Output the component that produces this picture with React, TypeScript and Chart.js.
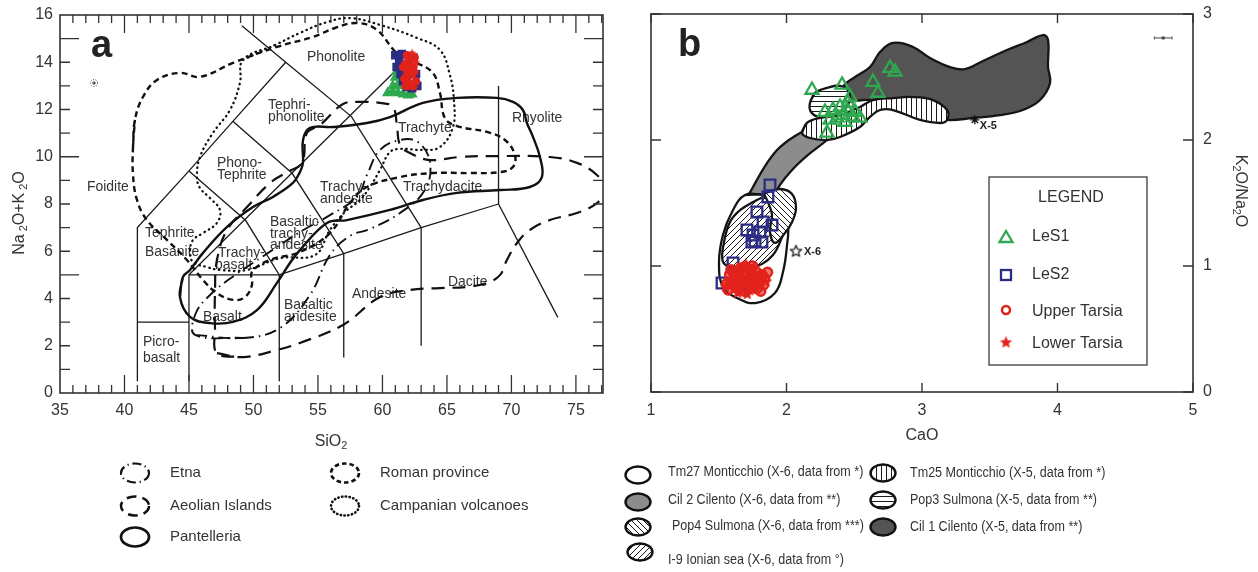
import React, { useEffect, useRef } from 'react';
import { Chart, registerables } from 'chart.js';

Chart.register(...registerables);

type Pt = [number, number];

const FONT = '"Liberation Sans", Arial, Helvetica, sans-serif';
const INK = '#333333';
const GREEN = '#2fa84f';
const BLUE = '#2b2d85';
const RED = '#e2231c';

// ---------- panel a : total alkali vs silica ----------
const siTicks = [35, 40, 45, 50, 55, 60, 65, 70, 75];
const alkTicks = [0, 2, 4, 6, 8, 10, 12, 14, 16];

// classification field boundaries (SiO2, Na2O+K2O)
const tasLines: Pt[][] = [
  [[41, 0.5], [41, 7], [45, 9.4], [48.4, 11.5], [52.5, 14]],
  [[49.1, 15.55], [52.5, 14], [57.6, 11.7], [63, 7]],
  [[41, 3], [45, 3]],
  [[45, 0.5], [45, 5], [61.3, 13.8]],
  [[45, 5], [52, 5], [57, 5.9], [63, 7], [69, 8]],
  [[52, 0.5], [52, 5], [49.4, 7.3], [45, 9.4]],
  [[57, 1.5], [57, 5.9], [53, 9.3], [48.4, 11.5]],
  [[63, 2], [63, 7]],
  [[69, 8], [69, 13]],
  [[69, 8], [73.6, 3.2]],
];

const tasFieldLabels: [string, number, number][] = [
  ['Phonolite', 54.15, 14.22],
  ['Tephri-', 51.12, 12.19],
  ['phonolite', 51.12, 11.68],
  ['Trachyte', 61.2, 11.22],
  ['Rhyolite', 70.04, 11.64],
  ['Phono-', 47.17, 9.74],
  ['Tephrite', 47.17, 9.23],
  ['Foidite', 37.09, 8.72],
  ['Trachy-', 55.16, 8.72],
  ['andesite', 55.16, 8.21],
  ['Trachydacite', 61.59, 8.72],
  ['Tephrite', 41.59, 6.77],
  ['Basanite', 41.59, 5.97],
  ['Basaltic', 51.28, 7.24],
  ['trachy-', 51.28, 6.73],
  ['andesite', 51.28, 6.26],
  ['Trachy-', 47.25, 5.93],
  ['basalt', 47.02, 5.42],
  ['Basalt', 46.09, 3.22],
  ['Basaltic', 52.36, 3.72],
  ['andesite', 52.36, 3.22],
  ['Andesite', 57.64, 4.19],
  ['Dacite', 65.08, 4.7],
  ['Picro-', 41.43, 2.16],
  ['basalt', 41.43, 1.48],
];

// comparison fields
const etnaField: Pt[] = [
  [45.47, 2.46], [49.19, 2.33], [52.05, 2.75], [54.38, 4.15], [55.93, 5.84], [57.48, 6.65],
  [59.03, 6.94], [61.36, 7.62], [63.29, 8.59], [63.68, 9.78], [62.75, 10.62], [61.36, 10.71],
  [59.81, 10.29], [58.8, 9.23], [58.02, 8.3], [55.93, 7.53], [53.6, 6.81], [50.89, 5.84],
  [48.57, 4.99], [46.63, 4.15], [45.47, 3.3],
];
const aeolianField: Pt[] = [
  [47.17, 1.69], [49.19, 1.52], [51.82, 1.82], [53.6, 2.12], [56.94, 2.88], [59.81, 4.06],
  [62.13, 4.36], [64.46, 4.44], [66.55, 4.49], [68.1, 4.66], [69.11, 4.99], [69.65, 5.63],
  [70.43, 6.35], [71.43, 6.9], [72.98, 7.32], [75.08, 7.62], [76.63, 8.04], [77.33, 8.59],
  [76.63, 9.23], [75.08, 9.74], [72.98, 9.99], [69.11, 10.03], [66.01, 9.99], [63.68, 9.86],
  [62.13, 10.16], [61.36, 10.5], [61.12, 11.34], [60.81, 12.11], [59.81, 12.28], [58.26, 12.32],
  [56.94, 12.23], [55.16, 11.34], [54.15, 11.01], [53.76, 9.74], [52.6, 9.35], [51.28, 8.89],
  [49.5, 7.87], [47.95, 6.9], [47.17, 5.63], [47.02, 4.36], [47.02, 2.67],
];
const pantelleriaField: Pt[] = [
  [44.53, 4.91], [44.3, 4.06], [45.08, 3.22], [46.63, 2.96], [48.41, 3.01], [50.27, 3.51],
  [51.82, 4.66], [52.83, 5.5], [53.6, 6.05], [55.7, 7.2], [57.25, 7.32], [60.58, 7.75],
  [63.14, 8.17], [65.78, 8.47], [69.11, 8.59], [71.43, 8.72], [72.36, 9.14], [72.21, 9.99],
  [71.67, 10.84], [71.2, 11.43], [70.89, 11.98], [70.12, 12.32], [68.88, 12.49], [65.78, 12.49],
  [63.14, 12.28], [60.58, 11.68], [58.8, 11.43], [56.16, 11.26], [54.38, 11.22], [53.84, 10.71],
  [53.84, 9.74], [53.6, 9.35], [53.06, 8.89], [51.51, 8.3], [49.96, 7.87], [47.95, 7.03],
  [46.09, 5.93], [45.08, 5.21],
];
const romanField: Pt[] = [
  [40.66, 10.41], [40.81, 11.56], [41.43, 12.53], [42.52, 13.25], [44.3, 13.55], [45.85, 13.38],
  [48.41, 13.97], [51.82, 14.65], [54.61, 15.07], [56.32, 15.45], [58.02, 15.66], [59.57, 15.37],
  [61.12, 14.39], [62.67, 13.97], [63.91, 13.55], [64.46, 12.7], [64.84, 11.64], [65.78, 11.3],
  [68.1, 11.05], [69.5, 10.71], [70.27, 10.07], [70.12, 9.57], [69.11, 9.35], [66.78, 9.31],
  [63.91, 9.31], [61.36, 9.14], [58.8, 8.72], [57.48, 8.04], [55.93, 6.77], [53.6, 5.97],
  [51.28, 5.63], [49.88, 5.12], [49.88, 4.57], [49.34, 4.06], [48.41, 3.94], [47.17, 4.23],
  [46.09, 4.78], [44.84, 5.63], [43.29, 6.48], [41.74, 7.32], [40.97, 8.17], [40.66, 9.23],
];
const campanianField: Pt[] = [
  [49.19, 14.1], [51.67, 14.73], [53.6, 15.24], [55.7, 15.7], [57.48, 15.87], [59.81, 15.58],
  [62.67, 15.03], [64.46, 14.52], [65.23, 13.46], [65.54, 12.4], [65.47, 11.26], [64.46, 10.41],
  [63.14, 10.29], [61.36, 10.33], [60.58, 10.2], [59.81, 9.44], [59.03, 8.72], [58.26, 8.17],
  [57.09, 7.66], [55.93, 6.9], [54.77, 5.84], [52.05, 5.71], [49.5, 5.21], [47.4, 5.21],
  [46.4, 5.33], [45.31, 5.55], [45.08, 5.97], [45.31, 6.48], [46.09, 6.77], [47.17, 7.2],
  [47.4, 7.75], [46.63, 8.25], [45.85, 8.68], [45.62, 9.14], [45.85, 9.99], [46.86, 11.01],
  [48.18, 11.98], [48.95, 13.12],
];

// analysed glasses, panel a
const les1TAS: Pt[] = [
  [60.4, 12.7], [60.8, 12.75], [61.2, 12.7], [61.6, 12.65], [62.0, 12.6], [62.3, 12.65],
  [60.8, 13.0], [61.2, 13.05], [61.6, 13.0], [61.0, 13.35], [61.3, 13.4], [61.1, 13.6],
];
const les2TAS: Pt[] = [
  [61.0, 14.3], [61.3, 14.1], [61.1, 13.8], [61.4, 13.5], [61.6, 13.2], [61.9, 12.95],
  [62.3, 12.9], [62.7, 13.0], [62.6, 13.5], [61.5, 14.35], [62.0, 13.9], [62.4, 14.2],
];
const upperTarsiaTAS: Pt[] = [
  [61.7, 13.3], [61.9, 13.7], [62.1, 14.1], [62.4, 13.8], [61.8, 13.0], [62.0, 13.4],
  [62.3, 13.5], [62.6, 13.2], [61.9, 14.3], [62.2, 13.0], [61.6, 13.8], [62.5, 14.2],
];
const lowerTarsiaTAS: Pt[] = [
  [61.8, 13.5], [62.0, 13.9], [62.2, 14.3], [62.6, 13.6], [61.9, 13.1], [62.1, 13.2],
  [62.5, 12.95], [61.7, 14.0], [62.3, 14.4], [62.3, 13.1], [62.0, 14.2], [62.6, 14.0],
];
const tasErrorCross: Pt = [37.64, 13.12];

// ---------- panel b : CaO vs K2O/Na2O ----------
const caoTicks = [1, 2, 3, 4, 5];
const ratioTicks = [0, 1, 2, 3];

const cil1Field: Pt[] = [
  [2.417, 2.317], [2.417, 2.421], [2.506, 2.5], [2.616, 2.579], [2.69, 2.698], [2.786, 2.77],
  [2.934, 2.738], [3.059, 2.651], [3.207, 2.579], [3.317, 2.563], [3.45, 2.627], [3.627, 2.714],
  [3.775, 2.778], [3.893, 2.833], [3.93, 2.794], [3.93, 2.579], [3.945, 2.452], [3.871, 2.317],
  [3.745, 2.238], [3.576, 2.198], [3.376, 2.175], [3.185, 2.159], [3.022, 2.198], [2.838, 2.278],
  [2.616, 2.317],
];
const cil2Field: Pt[] = [
  [2.432, 2.143], [2.299, 2.0], [2.159, 1.881], [2.041, 1.762], [1.952, 1.643], [1.893, 1.524],
  [1.841, 1.365], [1.62, 1.127], [1.635, 1.325], [1.672, 1.46], [1.753, 1.627], [1.856, 1.817],
  [1.952, 1.944], [2.1, 2.056], [2.247, 2.119],
];
const tm25Field: Pt[] = [
  [2.114, 2.056], [2.151, 2.135], [2.247, 2.175], [2.395, 2.198], [2.542, 2.262], [2.638, 2.317],
  [2.786, 2.333], [2.934, 2.341], [3.081, 2.317], [3.185, 2.238], [3.185, 2.159], [3.133, 2.135],
  [2.985, 2.159], [2.786, 2.238], [2.69, 2.238], [2.616, 2.183], [2.542, 2.103], [2.395, 2.024],
  [2.299, 2.0], [2.173, 2.016],
];
const pop3Field: Pt[] = [
  [2.173, 2.294], [2.21, 2.373], [2.299, 2.413], [2.395, 2.429], [2.461, 2.381], [2.454, 2.278],
  [2.38, 2.214], [2.247, 2.183], [2.181, 2.222],
];
const tm27Field: Pt[] = [
  [1.694, 1.563], [1.841, 1.563], [1.967, 1.484], [2.011, 1.325], [2.004, 1.167], [1.974, 0.952],
  [1.915, 0.786], [1.768, 0.706], [1.635, 0.746], [1.531, 0.833], [1.502, 1.032], [1.531, 1.246],
  [1.598, 1.429],
];
const i9Field: Pt[] = [
  [1.657, 1.444], [1.782, 1.524], [1.9, 1.563], [1.959, 1.484], [1.982, 1.31], [1.952, 1.19],
  [1.9, 1.087], [1.819, 1.016], [1.716, 0.984], [1.605, 0.984], [1.531, 1.032], [1.539, 1.19],
  [1.583, 1.349],
];
const pop4Field: Pt[] = [
  [1.841, 1.579], [1.952, 1.611], [2.041, 1.571], [2.07, 1.46], [2.041, 1.349], [1.989, 1.262],
  [1.915, 1.183], [1.878, 1.27], [1.893, 1.405], [1.863, 1.508],
];

const les1Ratio: Pt[] = [
  [2.188, 2.397], [2.41, 2.437], [2.469, 2.341], [2.638, 2.46], [2.675, 2.373], [2.764, 2.571],
  [2.801, 2.54], [2.284, 2.222], [2.343, 2.238], [2.395, 2.262], [2.446, 2.238], [2.491, 2.183],
  [2.542, 2.175], [2.299, 2.056], [2.417, 2.198], [2.373, 2.175], [2.506, 2.222], [2.454, 2.294],
  [2.321, 2.159], [2.432, 2.143],
];
const les2Ratio: Pt[] = [
  [1.878, 1.643], [1.863, 1.548], [1.782, 1.429], [1.827, 1.349], [1.893, 1.325], [1.708, 1.286],
  [1.753, 1.246], [1.804, 1.27], [1.768, 1.198], [1.819, 1.19], [1.745, 1.19], [1.605, 1.024],
  [1.524, 0.865], [1.731, 0.841], [1.657, 0.865],
];
const upperTarsiaRatio: Pt[] = [
  [1.58, 0.93], [1.62, 0.96], [1.66, 0.98], [1.7, 0.99], [1.74, 0.97], [1.78, 0.95], [1.82, 0.93],
  [1.6, 0.88], [1.64, 0.9], [1.68, 0.92], [1.72, 0.89], [1.76, 0.91], [1.8, 0.88], [1.84, 0.9],
  [1.62, 0.84], [1.66, 0.86], [1.7, 0.83], [1.74, 0.85], [1.78, 0.82], [1.69, 0.8], [1.56, 0.86],
  [1.83, 0.85], [1.59, 0.97], [1.75, 1.0], [1.86, 0.95], [1.57, 0.81], [1.81, 0.8],
];
const lowerTarsiaRatio: Pt[] = [
  [1.6, 0.95], [1.64, 0.99], [1.68, 1.0], [1.72, 0.96], [1.76, 0.99], [1.8, 0.93], [1.58, 0.89],
  [1.63, 0.87], [1.67, 0.89], [1.71, 0.92], [1.75, 0.88], [1.79, 0.9], [1.83, 0.92], [1.61, 0.82],
  [1.65, 0.83], [1.69, 0.86], [1.73, 0.81], [1.77, 0.84], [1.81, 0.86], [1.71, 0.78], [1.55, 0.84],
  [1.85, 0.88], [1.66, 0.94], [1.74, 0.93], [1.7, 1.02], [1.64, 0.79],
];
const x5Tephra: Pt = [3.39, 2.16];
const x6Tephra: Pt = [2.07, 1.12];
const ratioErrorBar = { x: 4.78, y: 2.81, dx: 0.065 };

const legendA = ['Etna', 'Aeolian Islands', 'Pantelleria', 'Roman province', 'Campanian volcanoes'];
const legendB = [
  'Tm27 Monticchio (X-6, data from *)',
  'Cil 2 Cilento (X-6, data from **)',
  'Pop4 Sulmona (X-6, data from ***)',
  'I-9 Ionian sea (X-6, data from \u00b0)',
  'Tm25 Monticchio (X-5, data from *)',
  'Pop3 Sulmona (X-5, data from **)',
  'Cil 1 Cilento (X-5, data from **)',
];
const legendPoints = ['LeS1', 'LeS2', 'Upper Tarsia', 'Lower Tarsia'];

// ---------- helpers ----------
const xy = (pts: Pt[]) => pts.map(([x, y]) => ({ x, y }));
const loop = (pts: Pt[]) => [...pts, pts[0], pts[1]];

function starCanvas(r: number, fill: string, stroke: string, lw: number) {
  const size = Math.ceil(2 * r + 2 * lw + 2);
  const c = document.createElement('canvas');
  c.width = size;
  c.height = size;
  const g = c.getContext('2d')!;
  g.translate(size / 2, size / 2 + r * 0.08);
  g.beginPath();
  for (let i = 0; i < 10; i++) {
    const a = -Math.PI / 2 + (i * Math.PI) / 5;
    const rr = i % 2 === 0 ? r : r * 0.45;
    g.lineTo(Math.cos(a) * rr, Math.sin(a) * rr);
  }
  g.closePath();
  g.fillStyle = fill;
  g.fill();
  if (lw > 0) {
    g.lineWidth = lw;
    g.strokeStyle = stroke;
    g.lineJoin = 'round';
    g.stroke();
  }
  return c;
}

function hatch(kind: 'v' | 'h' | 'd1' | 'd2') {
  const s = kind === 'v' || kind === 'h' ? 5 : 6;
  const c = document.createElement('canvas');
  c.width = s;
  c.height = s;
  const g = c.getContext('2d')!;
  g.fillStyle = '#ffffff';
  g.fillRect(0, 0, s, s);
  g.strokeStyle = '#1a1a1a';
  g.lineWidth = 1;
  g.beginPath();
  if (kind === 'v') {
    g.moveTo(1.5, 0);
    g.lineTo(1.5, s);
  } else if (kind === 'h') {
    g.moveTo(0, 1.5);
    g.lineTo(s, 1.5);
  } else if (kind === 'd1') {
    g.moveTo(-1, -1);
    g.lineTo(s + 1, s + 1);
    g.moveTo(-1, s - 1);
    g.lineTo(1, s + 1);
    g.moveTo(s - 1, -1);
    g.lineTo(s + 1, 1);
  } else {
    g.moveTo(-1, s + 1);
    g.lineTo(s + 1, -1);
    g.moveTo(-1, 1);
    g.lineTo(1, -1);
    g.moveTo(s - 1, s + 1);
    g.lineTo(s + 1, s - 1);
  }
  g.stroke();
  return g.createPattern(c, 'repeat')!;
}

function text(ctx: CanvasRenderingContext2D, s: string, x: number, y: number, size: number, o: any = {}) {
  const { align = 'left', weight = '', sx = 1, color = INK } = o;
  ctx.save();
  ctx.font = `${weight} ${size}px ${FONT}`;
  ctx.fillStyle = color;
  ctx.textAlign = align;
  ctx.textBaseline = 'middle';
  ctx.translate(x, y);
  ctx.scale(sx, 1);
  ctx.fillText(s, 0, 0);
  ctx.restore();
}

// text with subscripts: parts of [string, isSubscript]
function richText(ctx: CanvasRenderingContext2D, parts: [string, boolean][], x: number, y: number, size: number) {
  ctx.save();
  ctx.fillStyle = INK;
  ctx.textBaseline = 'middle';
  ctx.textAlign = 'left';
  const widths = parts.map(([t, sub]) => {
    ctx.font = `${sub ? size * 0.68 : size}px ${FONT}`;
    return ctx.measureText(t).width;
  });
  let cx = x - widths.reduce((a, b) => a + b, 0) / 2;
  parts.forEach(([t, sub], i) => {
    ctx.font = `${sub ? size * 0.68 : size}px ${FONT}`;
    ctx.fillText(t, cx, y + (sub ? size * 0.28 : 0));
    cx += widths[i];
  });
  ctx.restore();
}

function ellipse(ctx: CanvasRenderingContext2D, cx: number, cy: number, rx: number, ry: number) {
  ctx.beginPath();
  ctx.ellipse(cx, cy, rx, ry, 0, 0, Math.PI * 2);
}

const curveStyles = {
  etna: { borderDash: [12, 5, 1.5, 5], borderWidth: 1.9 },
  aeolian: { borderDash: [13, 8], borderWidth: 2.2 },
  pantelleria: { borderDash: [], borderWidth: 2.4 },
  roman: { borderDash: [6, 4], borderWidth: 2.4 },
  campanian: { borderDash: [0.5, 4.5], borderWidth: 2.3, borderCapStyle: 'round' },
};

function fieldSet(pts: Pt[], style: any) {
  return {
    data: xy(loop(pts)),
    showLine: true,
    pointRadius: 0,
    pointHoverRadius: 0,
    borderColor: '#111111',
    fill: false,
    tension: 0.4,
    order: 10,
    ...style,
  };
}

// ---------- panel a chart ----------
function panelAConfig(): any {
  const starA = starCanvas(4.5, RED, RED, 0);
  const datasets: any[] = [
    { data: xy(lowerTarsiaTAS), pointStyle: starA, pointRadius: 4, order: 0 },
    { data: xy(upperTarsiaTAS), pointStyle: 'circle', pointRadius: 3.5, borderColor: RED, backgroundColor: RED, borderWidth: 1.5, order: 1 },
    { data: xy(les2TAS), pointStyle: 'rect', pointRadius: 5, borderColor: BLUE, backgroundColor: BLUE, borderWidth: 1.5, order: 2 },
    { data: xy(les1TAS), pointStyle: 'triangle', pointRadius: 5, borderColor: GREEN, backgroundColor: GREEN, borderWidth: 1.5, order: 3 },
    fieldSet(pantelleriaField, curveStyles.pantelleria),
    fieldSet(romanField, curveStyles.roman),
    fieldSet(campanianField, curveStyles.campanian),
    fieldSet(aeolianField, curveStyles.aeolian),
    fieldSet(etnaField, curveStyles.etna),
    ...tasLines.map((l) => ({
      data: xy(l),
      showLine: true,
      pointRadius: 0,
      pointHoverRadius: 0,
      borderColor: '#1a1a1a',
      borderWidth: 1.3,
      tension: 0,
      fill: false,
      order: 20,
    })),
  ];

  const plugin = {
    id: 'panelA',
    beforeDatasetsDraw(chart: any) {
      const { ctx, scales } = chart;
      tasFieldLabels.forEach(([t, vx, vy]) =>
        text(ctx, t, scales.x.getPixelForValue(vx), scales.y.getPixelForValue(vy), 15, { sx: 0.93 }),
      );
    },
    afterDraw(chart: any) {
      const { ctx, chartArea: a, scales } = chart;
      const X = (v: number) => scales.x.getPixelForValue(v);
      const Y = (v: number) => scales.y.getPixelForValue(v);
      ctx.save();
      ctx.strokeStyle = INK;
      ctx.lineWidth = 1.6;
      ctx.strokeRect(a.left, a.top, a.right - a.left, a.bottom - a.top);
      ctx.lineWidth = 1.3;
      ctx.beginPath();
      for (let v = 36; v <= 77; v++) {
        const p = X(v);
        const len = v % 5 === 0 ? 18 : 8;
        ctx.moveTo(p, a.bottom);
        ctx.lineTo(p, a.bottom - len);
        ctx.moveTo(p, a.top);
        ctx.lineTo(p, a.top + len);
      }
      for (let v = 1; v <= 15; v++) {
        const p = Y(v);
        const len = v % 5 === 0 ? 19 : 10;
        ctx.moveTo(a.left, p);
        ctx.lineTo(a.left + len, p);
        ctx.moveTo(a.right, p);
        ctx.lineTo(a.right - len, p);
      }
      ctx.stroke();

      // analytical error cross
      const ex = X(tasErrorCross[0]);
      const ey = Y(tasErrorCross[1]);
      ctx.lineWidth = 1;
      ctx.setLineDash([1, 1.5]);
      ellipse(ctx, ex, ey, 3.5, 3.5);
      ctx.stroke();
      ctx.setLineDash([]);
      ctx.beginPath();
      ctx.moveTo(ex - 2, ey);
      ctx.lineTo(ex + 2, ey);
      ctx.moveTo(ex, ey - 2);
      ctx.lineTo(ex, ey + 2);
      ctx.stroke();
      ctx.restore();

      siTicks.forEach((v) => text(ctx, String(v), X(v), 411, 16, { align: 'center' }));
      alkTicks.forEach((v) => text(ctx, String(v), 53, Y(v), 16, { align: 'right' }));
      text(ctx, 'a', 91, 47, 38, { weight: 'bold', color: '#222' });

      richText(ctx, [['SiO', false], ['2', true]], 331, 442, 16);
      ctx.save();
      ctx.translate(20, 213);
      ctx.rotate(-Math.PI / 2);
      richText(ctx, [['Na', false], [' 2', true], ['O+K', false], [' 2', true], ['O', false]], 0, 0, 16);
      ctx.restore();

      // field legend
      const items: [number, number, any][] = [
        [135, 473, curveStyles.etna],
        [135, 506, curveStyles.aeolian],
        [135, 537, curveStyles.pantelleria],
        [345, 473, curveStyles.roman],
        [345, 506, curveStyles.campanian],
      ];
      items.forEach(([cx, cy, st], i) => {
        ctx.save();
        ctx.strokeStyle = '#111';
        ctx.lineWidth = st.borderWidth + 0.3;
        ctx.setLineDash(st.borderDash.map((d: number) => d * 0.75));
        ctx.lineCap = st.borderCapStyle || 'butt';
        ellipse(ctx, cx, cy, 14, 9.5);
        ctx.stroke();
        ctx.restore();
        text(ctx, legendA[i], cx + 35, cy, 15);
      });
    },
  };

  return {
    type: 'scatter',
    data: { datasets },
    options: {
      responsive: false,
      animation: false,
      events: [],
      layout: { padding: { left: 60, top: 15, right: 12, bottom: 179 } },
      scales: {
        x: { type: 'linear', min: 35, max: 77.1, display: false },
        y: { type: 'linear', min: 0, max: 16, display: false },
      },
      plugins: { legend: { display: false }, tooltip: { enabled: false } },
    },
    plugins: [plugin],
  };
}

// ---------- panel b chart ----------
const B_LEFT = 615;

function panelBConfig(): any {
  const pat = { v: hatch('v'), h: hatch('h'), d1: hatch('d1'), d2: hatch('d2') };
  const starB = starCanvas(6.5, RED, RED, 0);
  const openStar = starCanvas(6, '#ffffff', '#111111', 1.2);
  const region = (pts: Pt[], bg: any, order: number) => ({
    data: xy(loop(pts)),
    showLine: true,
    pointRadius: 0,
    pointHoverRadius: 0,
    borderColor: '#151515',
    borderWidth: 2.3,
    backgroundColor: bg,
    fill: 'shape',
    tension: 0.4,
    order,
  });
  const datasets: any[] = [
    { data: xy([x5Tephra]), pointStyle: 'star', pointRadius: 4.5, borderColor: '#111', borderWidth: 1.3, order: 0 },
    { data: xy([x6Tephra]), pointStyle: openStar, pointRadius: 5, order: 0 },
    { data: xy(lowerTarsiaRatio), pointStyle: starB, pointRadius: 5, order: 1 },
    { data: xy(upperTarsiaRatio), pointStyle: 'circle', pointRadius: 4.5, borderColor: RED, backgroundColor: 'rgba(226,35,28,0.6)', borderWidth: 2.5, order: 2 },
    { data: xy(les2Ratio), pointStyle: 'rect', pointRadius: 7.5, borderColor: BLUE, backgroundColor: 'rgba(255,255,255,0)', borderWidth: 2.3, order: 3 },
    { data: xy(les1Ratio), pointStyle: 'triangle', pointRadius: 7.5, borderColor: GREEN, backgroundColor: 'rgba(255,255,255,0)', borderWidth: 2.3, order: 4 },
    region(pop4Field, pat.d1, 11),
    region(i9Field, pat.d2, 12),
    region(tm27Field, '#ffffff', 13),
    region(pop3Field, pat.h, 14),
    region(tm25Field, pat.v, 15),
    region(cil2Field, '#8c8c8c', 16),
    region(cil1Field, '#545454', 17),
  ];

  const plugin = {
    id: 'panelB',
    afterDraw(chart: any) {
      const { ctx, chartArea: a, scales } = chart;
      const X = (v: number) => scales.x.getPixelForValue(v);
      const Y = (v: number) => scales.y.getPixelForValue(v);
      ctx.save();
      ctx.strokeStyle = INK;
      ctx.lineWidth = 1.6;
      ctx.strokeRect(a.left, a.top, a.right - a.left, a.bottom - a.top);
      ctx.lineWidth = 1.4;
      ctx.beginPath();
      caoTicks.forEach((v) => {
        const p = X(v);
        ctx.moveTo(p, a.bottom);
        ctx.lineTo(p, a.bottom - 9);
        ctx.moveTo(p, a.top);
        ctx.lineTo(p, a.top + 9);
      });
      ratioTicks.forEach((v) => {
        const p = Y(v);
        ctx.moveTo(a.left, p);
        ctx.lineTo(a.left + 10, p);
        ctx.moveTo(a.right, p);
        ctx.lineTo(a.right - 10, p);
      });
      ctx.stroke();

      // analytical error bar
      const bx0 = X(ratioErrorBar.x - ratioErrorBar.dx);
      const bx1 = X(ratioErrorBar.x + ratioErrorBar.dx);
      const bc = X(ratioErrorBar.x);
      const by = Y(ratioErrorBar.y);
      ctx.lineWidth = 1;
      ctx.strokeStyle = '#444';
      ctx.beginPath();
      ctx.moveTo(bx0, by);
      ctx.lineTo(bx1, by);
      ctx.moveTo(bx0, by - 1.5);
      ctx.lineTo(bx0, by + 1.5);
      ctx.moveTo(bx1, by - 1.5);
      ctx.lineTo(bx1, by + 1.5);
      ctx.stroke();
      ctx.fillStyle = '#444';
      ctx.fillRect(bc - 1.5, by - 1.5, 3, 3);
      ctx.restore();

      text(ctx, 'X-5', X(x5Tephra[0]) + 5, Y(x5Tephra[1]) + 6, 11, { weight: 'bold', color: '#222' });
      text(ctx, 'X-6', X(x6Tephra[0]) + 8, Y(x6Tephra[1]) + 1, 11, { weight: 'bold', color: '#222' });

      caoTicks.forEach((v) => text(ctx, String(v), X(v), 411, 16, { align: 'center' }));
      ratioTicks.forEach((v) => text(ctx, String(v), a.right + 10, Y(v), 16));
      text(ctx, 'b', 678 - B_LEFT, 46, 38, { weight: 'bold', color: '#222' });
      text(ctx, 'CaO', X(3), 436, 16, { align: 'center' });
      ctx.save();
      ctx.translate(1240 - B_LEFT, 191);
      ctx.rotate(Math.PI / 2);
      richText(ctx, [['K', false], ['2', true], ['O/Na', false], ['2', true], ['O', false]], 0, 0, 16);
      ctx.restore();

      // symbol legend box
      const L = 989 - B_LEFT;
      ctx.save();
      ctx.strokeStyle = '#3a3a3a';
      ctx.lineWidth = 1.3;
      ctx.strokeRect(L, 177, 158, 188);
      ctx.restore();
      text(ctx, 'LEGEND', L + 82, 198, 16, { align: 'center' });
      const sx = 1006 - B_LEFT;
      const rows = [237, 275, 312, 344];
      ctx.save();
      ctx.lineWidth = 2.3;
      ctx.strokeStyle = GREEN;
      ctx.beginPath();
      ctx.moveTo(sx, rows[0] - 6);
      ctx.lineTo(sx + 6.5, rows[0] + 5);
      ctx.lineTo(sx - 6.5, rows[0] + 5);
      ctx.closePath();
      ctx.stroke();
      ctx.strokeStyle = BLUE;
      ctx.strokeRect(sx - 5, rows[1] - 5, 10, 10);
      ctx.strokeStyle = RED;
      ctx.lineWidth = 2.5;
      ellipse(ctx, sx, rows[2] - 2, 4, 4);
      ctx.stroke();
      ctx.drawImage(starB, sx - starB.width / 2, rows[3] - 2 - starB.height / 2);
      ctx.restore();
      legendPoints.forEach((t, i) => text(ctx, t, 1032 - B_LEFT, rows[i], 16));

      // tephra field legend
      const fills = ['#ffffff', '#8c8c8c', pat.d1, pat.d2, pat.v, pat.h, '#545454'];
      const pos: [number, number, number][] = [
        [638, 475, 472],
        [638, 502, 500],
        [638, 527, 526],
        [640, 552, 560],
        [883, 473, 473],
        [883, 500, 500],
        [883, 527, 527],
      ];
      pos.forEach(([cx, cy, ty], i) => {
        ctx.save();
        ellipse(ctx, cx - B_LEFT, cy, 12.5, 8.5);
        ctx.fillStyle = fills[i];
        ctx.fill();
        ctx.strokeStyle = '#111';
        ctx.lineWidth = 2.4;
        ctx.stroke();
        ctx.restore();
        const tx = i < 4 ? (i === 2 ? 672 : 668) : 910;
        text(ctx, legendB[i], tx - B_LEFT, ty, 15.5, { sx: 0.81 });
      });
    },
  };

  return {
    type: 'scatter',
    data: { datasets },
    options: {
      responsive: false,
      animation: false,
      events: [],
      layout: { padding: { left: 651 - B_LEFT, top: 14, right: 1258 - 1193, bottom: 180 } },
      scales: {
        x: { type: 'linear', min: 1, max: 5, display: false },
        y: { type: 'linear', min: 0, max: 3, display: false },
      },
      plugins: { legend: { display: false }, tooltip: { enabled: false } },
    },
    plugins: [plugin],
  };
}

export default function App() {
  const aRef = useRef<HTMLCanvasElement>(null);
  const bRef = useRef<HTMLCanvasElement>(null);

  useEffect(() => {
    const ca = new Chart(aRef.current!, panelAConfig());
    const cb = new Chart(bRef.current!, panelBConfig());
    return () => {
      ca.destroy();
      cb.destroy();
    };
  }, []);

  return (
    <div style={{ position: 'fixed', left: 0, top: 0, width: 1258, height: 572, background: '#ffffff', overflow: 'hidden' }}>
      <canvas ref={aRef} width={B_LEFT} height={572} style={{ position: 'absolute', left: 0, top: 0 }} />
      <canvas ref={bRef} width={1258 - B_LEFT} height={572} style={{ position: 'absolute', left: B_LEFT, top: 0 }} />
    </div>
  );
}
